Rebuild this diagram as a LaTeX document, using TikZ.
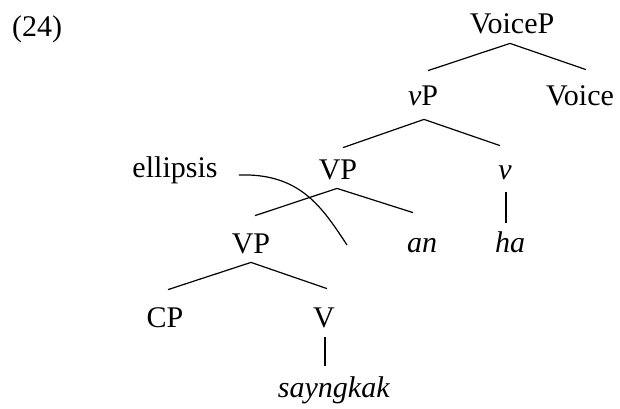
\documentclass[tikz,border=0pt]{standalone}
\usepackage{fontspec}
\setmainfont{Liberation Serif}
\begin{document}
\begin{tikzpicture}[x=0.5pt,y=-0.5pt,
  lab/.style={anchor=base,inner sep=0pt,text height=10pt,text depth=0pt,font=\fontsize{15}{18}\selectfont},
  edge/.style={line width=0.6pt}]
\useasboundingbox (0,0) rectangle (620,408);
\node[lab] (ex) at (37,36) {(24)};
\node[lab] (VoiceP) at (512,33) {VoiceP};
\node[lab] (vP) at (423,105) {\textit{v}P};
\node[lab] (Voice) at (580,105) {Voice};
\node[lab] (ell) at (175,177) {ellipsis};
\node[lab] (VP1) at (338,179) {VP};
\node[lab] (v) at (505,179) {\textit{v}};
\node[lab] (VP2) at (251,253) {VP};
\node[lab] (an) at (422,252) {\textit{an}};
\node[lab] (ha) at (510,252) {\textit{ha}};
\node[lab] (CP) at (165,327) {CP};
\node[lab] (V) at (324,327) {V};
\node[lab] (say) at (334,397) {\textit{sayngkak}};
\coordinate (ellend) at (347,245);
% edges
\draw[edge] ([xshift=-1pt,yshift=-5pt]VoiceP.south) -- ([xshift=2.5pt,yshift=7pt]vP.north);
\draw[edge] ([xshift=-1pt,yshift=-5pt]VoiceP.south) -- ([xshift=3pt,yshift=7.5pt]Voice.north);
\draw[edge] ([xshift=0.5pt,yshift=-7pt]vP.south) -- ([xshift=2.5pt,yshift=5.5pt]VP1.north);
\draw[edge] ([xshift=0.5pt,yshift=-7pt]vP.south) -- ([xshift=-2.5pt,yshift=6.5pt]v.north);
\draw[edge] ([xshift=0.5pt,yshift=-6.5pt]v.south) -- ([xshift=-2pt,yshift=4.5pt]ha.north);
\draw[edge] ([xshift=-0.5pt,yshift=-4.5pt]VP1.south) -- ([xshift=2pt,yshift=8.5pt]VP2.north);
\draw[edge] ([xshift=-0.5pt,yshift=-4.5pt]VP1.south) -- ([xshift=-4.5pt,yshift=9.5pt]an.north);
\draw[edge] ([yshift=-4.5pt]VP2.south) -- ([xshift=1.5pt,yshift=8.5pt]CP.north);
\draw[edge] ([yshift=-4.5pt]VP2.south) -- ([xshift=1.5pt,yshift=9pt]V.north);
\draw[edge] ([xshift=0.5pt,yshift=-5pt]V.south) -- ([xshift=-4.5pt,yshift=5.5pt]say.north);
\draw[edge] ([xshift=10.5pt,yshift=1pt]ell.base east) .. controls (300,173) and (322,207) .. (ellend);
\end{tikzpicture}
\end{document}
